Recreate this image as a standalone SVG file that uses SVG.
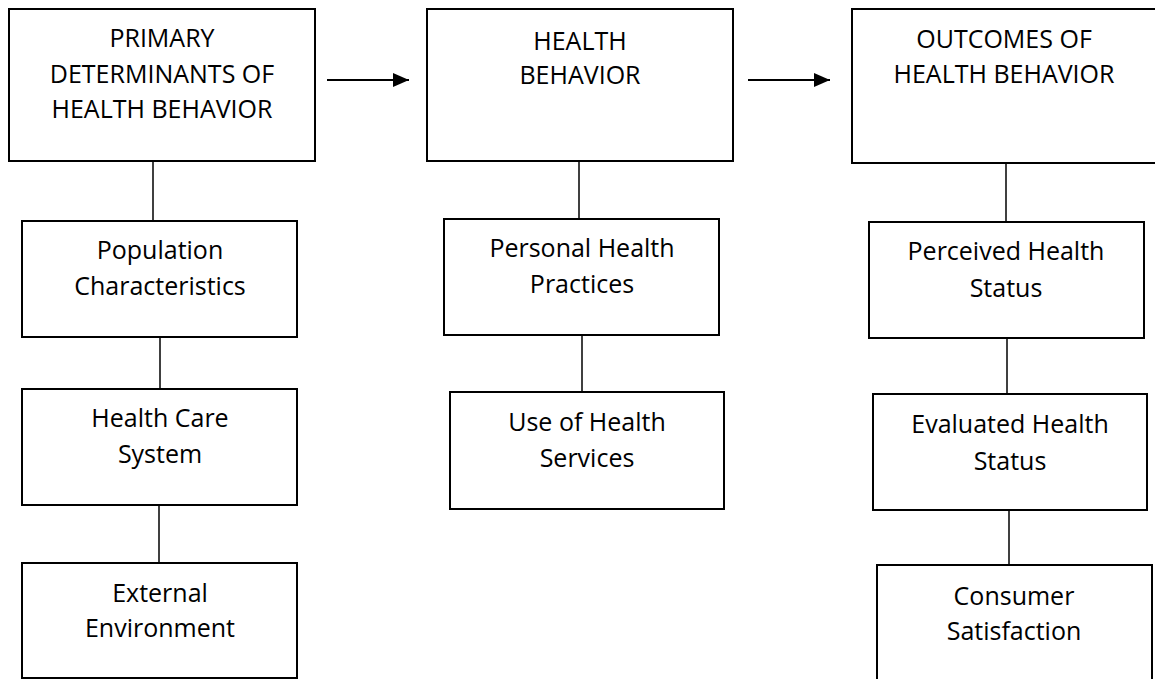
<svg xmlns="http://www.w3.org/2000/svg" width="1155" height="679" viewBox="0 0 1155 679">
<style>
.box{fill:#fff;stroke:#000;stroke-width:2}
.lbl{font-family:"Open Sans","Noto Sans",sans-serif;font-size:25px;fill:#000;text-anchor:middle}
.conn{stroke:#000;stroke-width:1.5;fill:none}
.arr{stroke:#000;stroke-width:2;fill:none}
</style>
<defs>
<marker id="ah" markerWidth="8" markerHeight="7" refX="8" refY="3.5" orient="auto" markerUnits="strokeWidth">
<path d="M0,0 L8,3.5 L0,7 Z" fill="#000"/>
</marker>
</defs>
<rect width="1155" height="679" fill="#fff"/>
<g id="connectors">
<line class="arr" x1="327" y1="80" x2="409" y2="80" marker-end="url(#ah)"/>
<line class="arr" x1="748" y1="80" x2="830" y2="80" marker-end="url(#ah)"/>
<line class="conn" x1="153" y1="161" x2="153" y2="221"/>
<line class="conn" x1="160" y1="337" x2="160" y2="389"/>
<line class="conn" x1="159" y1="505" x2="159" y2="563"/>
<line class="conn" x1="579" y1="161" x2="579" y2="219"/>
<line class="conn" x1="582" y1="335" x2="582" y2="392"/>
<line class="conn" x1="1006" y1="163" x2="1006" y2="222"/>
<line class="conn" x1="1007" y1="338" x2="1007" y2="394"/>
<line class="conn" x1="1009" y1="510" x2="1009" y2="565"/>
</g>
<g id="primary">
<rect class="box" x="9" y="9" width="306" height="152"/>
<text class="lbl" x="162" y="47">PRIMARY</text>
<text class="lbl" x="162" y="83">DETERMINANTS OF</text>
<text class="lbl" x="162" y="118">HEALTH BEHAVIOR</text>
</g>
<g id="behavior">
<rect class="box" x="427" y="9" width="306" height="152"/>
<text class="lbl" x="580" y="50">HEALTH</text>
<text class="lbl" x="580" y="84">BEHAVIOR</text>
</g>
<g id="outcomes">
<rect class="box" x="852" y="9" width="306" height="154"/>
<text class="lbl" x="1004" y="48">OUTCOMES OF</text>
<text class="lbl" x="1004" y="83">HEALTH BEHAVIOR</text>
</g>
<g id="population">
<rect class="box" x="22" y="221" width="275" height="116"/>
<text class="lbl" x="160" y="259">Population</text>
<text class="lbl" x="160" y="295">Characteristics</text>
</g>
<g id="healthcare">
<rect class="box" x="22" y="389" width="275" height="116"/>
<text class="lbl" x="160" y="427">Health Care</text>
<text class="lbl" x="160" y="463">System</text>
</g>
<g id="external">
<rect class="box" x="22" y="563" width="275" height="115"/>
<text class="lbl" x="160" y="602">External</text>
<text class="lbl" x="160" y="637">Environment</text>
</g>
<g id="personal">
<rect class="box" x="444" y="219" width="275" height="116"/>
<text class="lbl" x="582" y="257">Personal Health</text>
<text class="lbl" x="582" y="293">Practices</text>
</g>
<g id="use">
<rect class="box" x="450" y="392" width="274" height="117"/>
<text class="lbl" x="587" y="431">Use of Health</text>
<text class="lbl" x="587" y="467">Services</text>
</g>
<g id="perceived">
<rect class="box" x="869" y="222" width="275" height="116"/>
<text class="lbl" x="1006" y="260">Perceived Health</text>
<text class="lbl" x="1006" y="297">Status</text>
</g>
<g id="evaluated">
<rect class="box" x="873" y="394" width="274" height="116"/>
<text class="lbl" x="1010" y="433">Evaluated Health</text>
<text class="lbl" x="1010" y="470">Status</text>
</g>
<g id="consumer">
<rect class="box" x="877" y="565" width="275" height="120"/>
<text class="lbl" x="1014" y="605">Consumer</text>
<text class="lbl" x="1014" y="640">Satisfaction</text>
</g>
</svg>
